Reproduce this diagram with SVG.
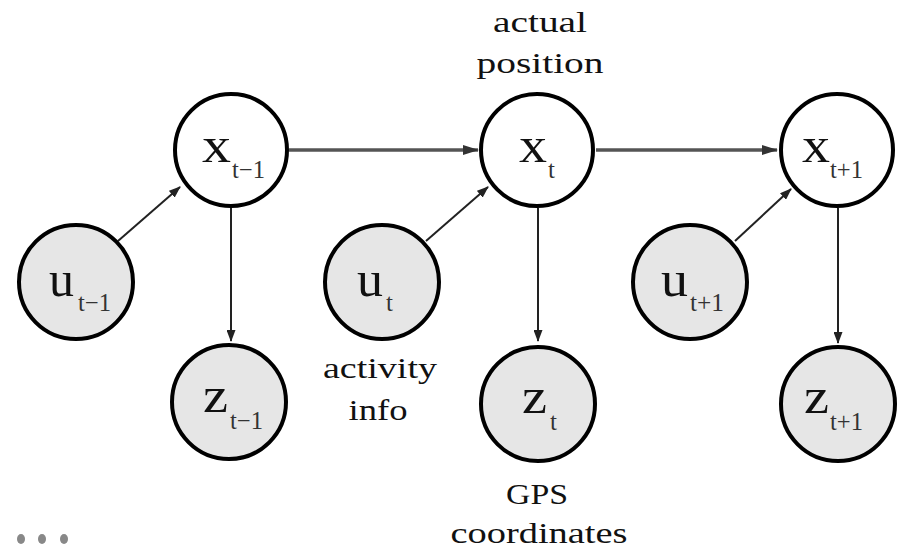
<svg xmlns="http://www.w3.org/2000/svg" width="899" height="551" viewBox="0 0 899 551">
<defs>
<marker id="ah" markerWidth="12" markerHeight="9" refX="11" refY="4.5" orient="auto" markerUnits="userSpaceOnUse"><path d="M0,0 L12,4.5 L0,9 Z" fill="#222"/></marker>
<marker id="ahg" markerWidth="16" markerHeight="10" refX="15" refY="5" orient="auto" markerUnits="userSpaceOnUse"><path d="M0,0 L16,5 L0,10 Z" fill="#333"/></marker>
<style>
.n{stroke:#000;stroke-width:4}
.w{fill:#fff}
.g{fill:#e6e6e6}
.v{font-family:"Liberation Serif","DejaVu Serif","Times New Roman",serif;font-size:50px;fill:#111}
.s{font-family:"Liberation Serif","DejaVu Serif","Times New Roman",serif;font-size:25px;fill:#333}
.lab{font-family:"Liberation Serif","DejaVu Serif","Times New Roman",serif;font-size:30px;fill:#111;text-anchor:middle}
.c{stroke:#222;stroke-width:2;fill:none;marker-end:url(#ah)}
.h{stroke:#555;stroke-width:3.5;fill:none;marker-end:url(#ahg)}
</style>
</defs>
<g id="connectors">
<line class="h" x1="289" y1="150" x2="478" y2="150"/>
<line class="h" x1="596" y1="150" x2="777" y2="150"/>
<line class="c" x1="231" y1="208" x2="231" y2="341"/>
<line class="c" x1="538" y1="208" x2="538" y2="341"/>
<line class="c" x1="838" y1="208" x2="838" y2="343"/>
<line class="c" x1="118" y1="241" x2="180" y2="187"/>
<line class="c" x1="426" y1="241" x2="488" y2="187"/>
<line class="c" x1="735" y1="241" x2="791" y2="189"/>
</g>
<g id="x_tm1"><circle class="n w" cx="231" cy="150" r="56"/><text class="v" x="202" y="162" textLength="29" lengthAdjust="spacingAndGlyphs">x</text><text class="s" x="232" y="178" textLength="33" lengthAdjust="spacingAndGlyphs">t−1</text></g>
<g id="x_t"><circle class="n w" cx="537" cy="150" r="56"/><text class="v" x="519" y="162" textLength="28" lengthAdjust="spacingAndGlyphs">x</text><text class="s" x="548" y="178">t</text></g>
<g id="x_tp1"><circle class="n w" cx="837" cy="150" r="56"/><text class="v" x="802" y="162" textLength="28" lengthAdjust="spacingAndGlyphs">x</text><text class="s" x="830" y="178" textLength="33" lengthAdjust="spacingAndGlyphs">t+1</text></g>
<g id="u_tm1"><circle class="n g" cx="76" cy="282" r="57"/><text class="v" x="49" y="296" textLength="25" lengthAdjust="spacingAndGlyphs">u</text><text class="s" x="78" y="311" textLength="33" lengthAdjust="spacingAndGlyphs">t−1</text></g>
<g id="u_t"><circle class="n g" cx="382" cy="282" r="57"/><text class="v" x="357" y="296" textLength="26" lengthAdjust="spacingAndGlyphs">u</text><text class="s" x="386" y="311">t</text></g>
<g id="u_tp1"><circle class="n g" cx="690" cy="282" r="57"/><text class="v" x="661" y="296" textLength="27" lengthAdjust="spacingAndGlyphs">u</text><text class="s" x="690" y="311" textLength="34" lengthAdjust="spacingAndGlyphs">t+1</text></g>
<g id="z_tm1"><circle class="n g" cx="229" cy="402" r="57"/><text class="v" x="203" y="412" textLength="25" lengthAdjust="spacingAndGlyphs">z</text><text class="s" x="230" y="429" textLength="33" lengthAdjust="spacingAndGlyphs">t−1</text></g>
<g id="z_t"><circle class="n g" cx="538" cy="404" r="57"/><text class="v" x="522" y="413" textLength="25" lengthAdjust="spacingAndGlyphs">z</text><text class="s" x="550" y="430">t</text></g>
<g id="z_tp1"><circle class="n g" cx="838" cy="404" r="57"/><text class="v" x="804" y="413" textLength="25" lengthAdjust="spacingAndGlyphs">z</text><text class="s" x="830" y="430" textLength="33" lengthAdjust="spacingAndGlyphs">t+1</text></g>
<g id="labels">
<text class="lab" x="540" y="32" textLength="94" lengthAdjust="spacingAndGlyphs">actual</text>
<text class="lab" x="540" y="73" textLength="127" lengthAdjust="spacingAndGlyphs">position</text>
<text class="lab" x="380" y="378" textLength="114" lengthAdjust="spacingAndGlyphs">activity</text>
<text class="lab" x="378" y="420" textLength="59" lengthAdjust="spacingAndGlyphs">info</text>
<text class="lab" x="537" y="504" textLength="62" lengthAdjust="spacingAndGlyphs">GPS</text>
<text class="lab" x="539" y="543" textLength="177" lengthAdjust="spacingAndGlyphs">coordinates</text>
</g>
<g id="dots" fill="#888"><ellipse cx="21" cy="539" rx="4" ry="5"/><ellipse cx="42" cy="539" rx="4" ry="5"/><ellipse cx="64" cy="539" rx="4" ry="5"/></g>
</svg>
